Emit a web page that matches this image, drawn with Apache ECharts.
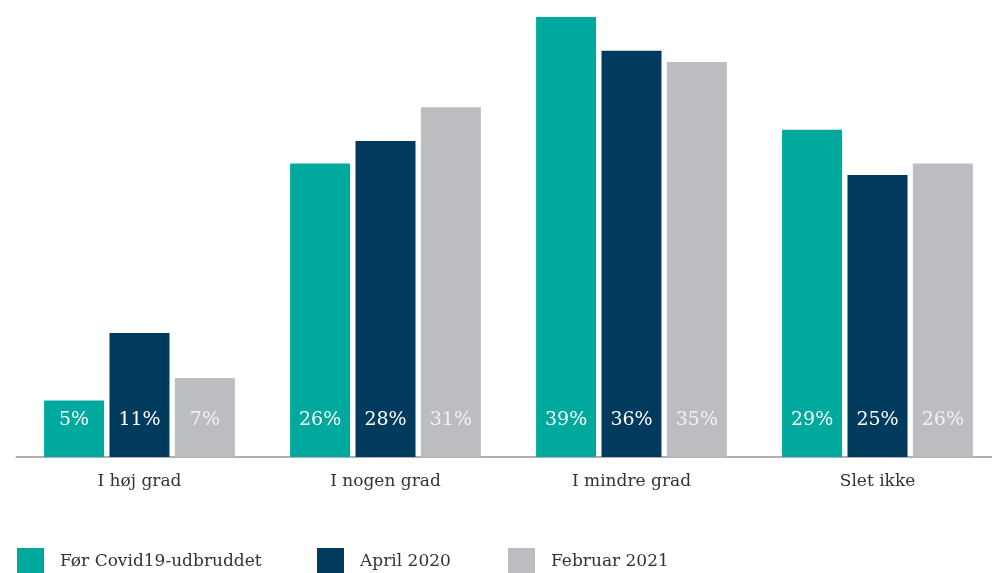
<!DOCTYPE html>
<html>
<head>
<meta charset="utf-8">
<script src="https://cdn.jsdelivr.net/npm/echarts@6/dist/echarts.min.js"></script>
<style>
    html, body { margin: 0; padding: 0; background: #fff; }
    #chart { width: 992px; height: 573px; }
</style>
</head>
<body>
<div id="chart"></div>
<script>
// 数据
const categories = ['I høj grad', 'I nogen grad', 'I mindre grad', 'Slet ikke'];
const seriesNames = ['Før Covid19-udbruddet', 'April 2020', 'Februar 2021'];
const beforeCovid = [5, 26, 39, 29];
const april2020 = [11, 28, 36, 25];
const feb2021 = [7, 31, 35, 26];

const colors = ['#00a99d', '#003a5d', '#bcbdc1'];
const labelColors = ['#ffffff', '#ffffff', '#f2f2f2'];
const fontFamily = '"DejaVu Serif", serif';

const chart = echarts.init(document.getElementById('chart'));

function makeSeries(name, values, idx) {
    return {
        name: name,
        type: 'bar',
        data: values,
        barWidth: 60,
        barGap: '9%',
        itemStyle: { color: colors[idx] },
        label: {
            show: true,
            position: 'insideBottom',
            distance: 27,
            formatter: '{c}%',
            color: labelColors[idx],
            fontFamily: fontFamily,
            fontSize: 19
        },
        emphasis: { disabled: true }
    };
}

// 图例位置
const legendLefts = [17, 317, 508];

const option = {
    animation: false,
    grid: { left: 16.5, width: 984, top: 0, bottom: 116, containLabel: false, outerBoundsMode: 'none' },
    legend: seriesNames.map((name, i) => ({
        data: [name],
        left: legendLefts[i],
        top: 548,
        padding: 0,
        itemWidth: 27,
        itemHeight: 27,
        icon: 'rect',
        textStyle: { color: '#333', fontFamily: fontFamily, fontSize: 17, padding: [0, 0, 0, 11] }
    })),
    xAxis: {
        type: 'category',
        data: categories,
        axisLine: { lineStyle: { color: '#b0b0b0', width: 2 } },
        axisTick: { show: false },
        axisLabel: { color: '#333', fontFamily: fontFamily, fontSize: 17, margin: 16 }
    },
    yAxis: {
        type: 'value',
        min: 0,
        max: 40.5,
        show: false,
        splitLine: { show: false }
    },
    series: [
        makeSeries(seriesNames[0], beforeCovid, 0),
        makeSeries(seriesNames[1], april2020, 1),
        makeSeries(seriesNames[2], feb2021, 2)
    ]
};

chart.setOption(option);
</script>
</body>
</html>
